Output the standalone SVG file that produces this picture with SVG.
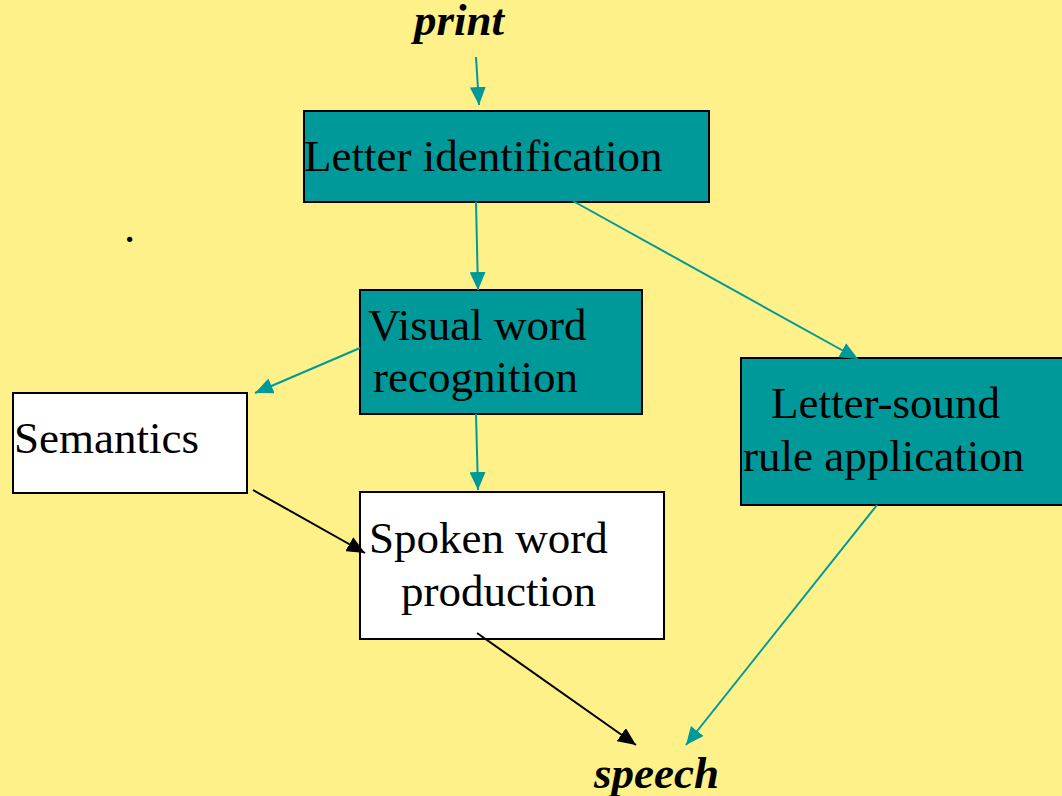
<svg xmlns="http://www.w3.org/2000/svg" width="1062" height="796" viewBox="0 0 1062 796">
  <defs>
    <style>
      .box-teal { fill: #009999; stroke: #000; stroke-width: 2; }
      .box-white { fill: #ffffff; stroke: #000; stroke-width: 2; }
      .label { font-family: "Liberation Serif", "Times New Roman", serif; font-size: 45px; fill: #000; }
      .term { font-family: "Liberation Serif", "Times New Roman", serif; font-size: 45px; font-weight: bold; font-style: italic; fill: #000; }
      .link-teal { stroke: #009999; stroke-width: 2; fill: none; marker-end: url(#head-teal); }
      .link-black { stroke: #000; stroke-width: 2; fill: none; marker-end: url(#head-black); }
    </style>
    <marker id="head-teal" markerWidth="9" markerHeight="8" refX="9" refY="4" orient="auto" markerUnits="strokeWidth">
      <path d="M0,0 L9,4 L0,8 Z" fill="#009999"/>
    </marker>
    <marker id="head-black" markerWidth="9" markerHeight="8" refX="9" refY="4" orient="auto" markerUnits="strokeWidth">
      <path d="M0,0 L9,4 L0,8 Z" fill="#000"/>
    </marker>
  </defs>

  <rect x="0" y="0" width="1062" height="796" fill="#FFF18A"/>

  <text class="label" x="124" y="242" font-size="32">.</text>

  <g id="print">
    <text class="term" x="459" y="35" text-anchor="middle">print</text>
  </g>

  <g id="letter-identification">
    <rect class="box-teal" x="304" y="111" width="405" height="91"/>
    <text class="label" x="304" y="171">Letter identification</text>
  </g>

  <g id="visual-word-recognition">
    <rect class="box-teal" x="360" y="290" width="282" height="124"/>
    <text class="label" x="368" y="340">Visual word</text>
    <text class="label" x="373" y="392">recognition</text>
  </g>

  <g id="semantics">
    <rect class="box-white" x="13" y="393" width="234" height="100"/>
    <text class="label" x="14" y="453">Semantics</text>
  </g>

  <g id="spoken-word-production">
    <rect class="box-white" x="360" y="492" width="304" height="147"/>
    <text class="label" x="369" y="553">Spoken word</text>
    <text class="label" x="401" y="606">production</text>
  </g>

  <g id="letter-sound-rule">
    <rect class="box-teal" x="741" y="358" width="330" height="147"/>
    <text class="label" x="771" y="418">Letter-sound</text>
    <text class="label" x="743" y="471">rule application</text>
  </g>

  <g id="speech">
    <text class="term" x="594" y="788">speech</text>
  </g>

  <g id="connectors">
    <line class="link-teal" x1="476" y1="57" x2="479" y2="105"/>
    <line class="link-teal" x1="476" y1="202" x2="478" y2="290"/>
    <line class="link-teal" x1="573" y1="201" x2="858" y2="359"/>
    <line class="link-teal" x1="360" y1="348" x2="255" y2="393"/>
    <line class="link-teal" x1="476" y1="414" x2="478" y2="490"/>
    <line class="link-black" x1="253" y1="490" x2="365" y2="553"/>
    <line class="link-black" x1="477" y1="633" x2="636" y2="745"/>
    <line class="link-teal" x1="877" y1="505" x2="686" y2="745"/>
  </g>
</svg>
